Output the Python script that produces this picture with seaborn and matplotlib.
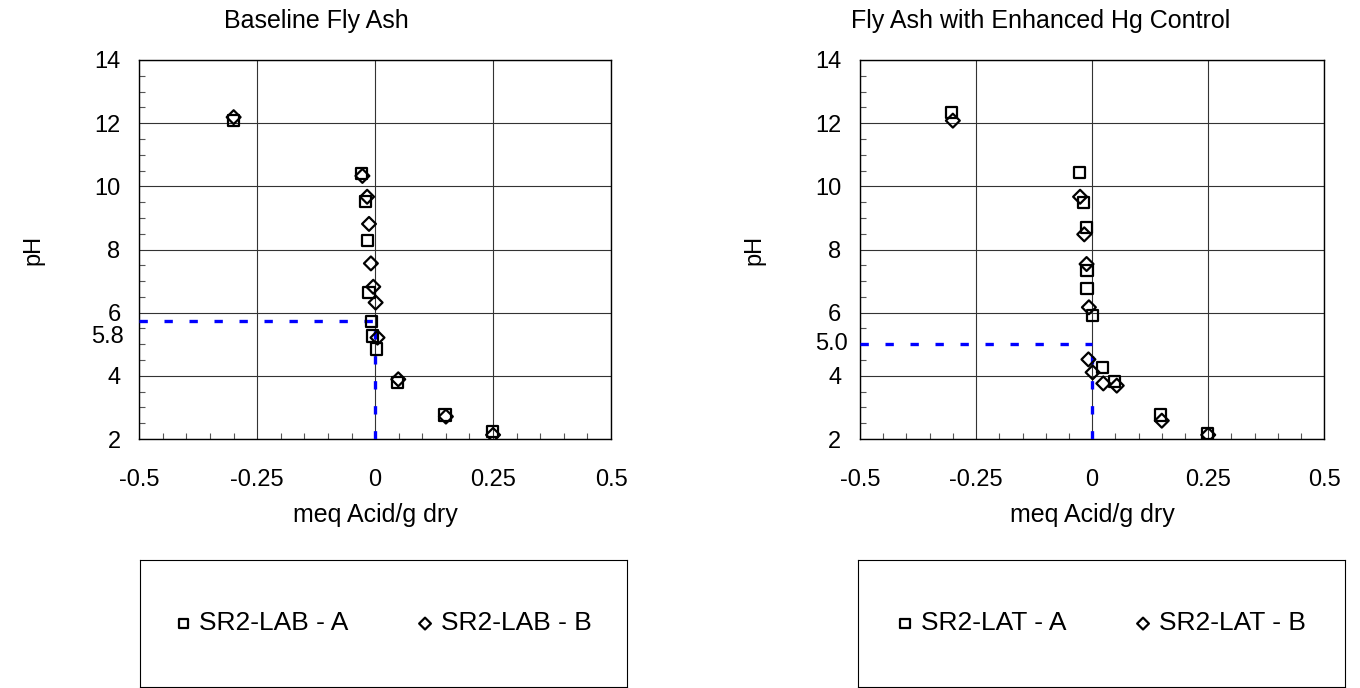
import numpy as np
import pandas as pd
import matplotlib.pyplot as plt
import matplotlib.ticker as mticker
import seaborn as sns

# Baseline fly ash (SR2-LAB)
lab_a_x = [-0.30, -0.029, -0.020, -0.016, -0.013, -0.007, -0.005, 0.002, 0.047, 0.148, 0.248]
lab_a_ph = [12.08, 10.41, 9.51, 8.28, 6.63, 5.71, 5.26, 4.85, 3.80, 2.76, 2.23]
lab_b_x = [-0.30, -0.027, -0.017, -0.013, -0.009, -0.004, 0.001, 0.005, 0.049, 0.150, 0.250]
lab_b_ph = [12.19, 10.33, 9.67, 8.81, 7.56, 6.82, 6.32, 5.21, 3.89, 2.71, 2.13]

# Fly ash with enhanced Hg control (SR2-LAT)
lat_a_x = [-0.303, -0.028, -0.019, -0.013, -0.011, -0.011, 0.0, 0.022, 0.049, 0.148, 0.248]
lat_a_ph = [12.33, 10.43, 9.50, 8.69, 7.33, 6.77, 5.90, 4.27, 3.81, 2.76, 2.18]
lat_b_x = [-0.300, -0.026, -0.017, -0.012, -0.007, -0.008, 0.001, 0.024, 0.053, 0.150, 0.250]
lat_b_ph = [12.08, 9.67, 8.48, 7.54, 6.17, 4.52, 4.11, 3.76, 3.69, 2.58, 2.13]

titles = ['Baseline Fly Ash', 'Fly Ash with Enhanced Hg Control']
series_names = [['SR2-LAB - A', 'SR2-LAB - B'], ['SR2-LAT - A', 'SR2-LAT - B']]
end_points = [5.74, 5.0]
end_labels = ['5.8', '5.0']
x_ticks = [-0.5, -0.25, 0, 0.25, 0.5]
x_ticklabels = ['-0.5', '-0.25', '0', '0.25', '0.5']
y_ticks = [2, 4, 6, 8, 10, 12, 14]

sns.set_style('white')
plt.rcParams['font.family'] = ['Liberation Sans', 'DejaVu Sans']
plt.rcParams['text.color'] = 'black'
plt.rcParams['axes.labelcolor'] = 'black'
fs_tick = 17
fs_lab = 18

fig = plt.figure(figsize=(13.6, 6.88), dpi=100)
ax_pos = [[139.3 / 1360, 249 / 688, 471.7 / 1360, 379 / 688],
          [860 / 1360, 249 / 688, 464.3 / 1360, 379 / 688]]
leg_pos = [[140 / 1360, 1 / 688, 487 / 1360, 127 / 688],
           [858 / 1360, 1 / 688, 487 / 1360, 127 / 688]]
title_x = [0.375, 0.388]
label_offsets = [(-15, -16), (-12, 0)]

data = [[(lab_a_x, lab_a_ph), (lab_b_x, lab_b_ph)],
        [(lat_a_x, lat_a_ph), (lat_b_x, lat_b_ph)]]

for i in range(2):
    ax = fig.add_axes(ax_pos[i])
    (ax_x, ax_y), (bx, by) = data[i]
    sns.scatterplot(x=ax_x, y=ax_y, ax=ax, marker='s', s=64, color='none',
                    edgecolor='black', linewidth=1.6, label=series_names[i][0], zorder=5)
    sns.scatterplot(x=bx, y=by, ax=ax, marker='D', s=50, color='none',
                    edgecolor='black', linewidth=1.6, label=series_names[i][1], zorder=6)

    # endpoint lines
    ep = end_points[i]
    ax.plot([-0.5, 0], [ep, ep], color='blue', lw=2.4, dashes=(2.5, 5), zorder=3)
    ax.plot([0, 0], [2, ep], color='blue', lw=2.4, dashes=(2.5, 5), zorder=3)

    ax.set_xlim(-0.5, 0.5)
    ax.set_ylim(2, 14)
    ax.set_xticks(x_ticks)
    ax.set_xticklabels(x_ticklabels)
    ax.set_yticks(y_ticks)
    ax.xaxis.set_minor_locator(mticker.MultipleLocator(0.05))
    ax.yaxis.set_minor_locator(mticker.MultipleLocator(0.5))
    ax.tick_params(which='major', direction='out', length=5.5, width=0.8,
                   color='#555555', labelcolor='black', labelsize=fs_tick)
    ax.tick_params(axis='x', which='major', pad=16)
    ax.tick_params(axis='y', which='major', pad=8)
    ax.tick_params(which='minor', direction='in', length=4.5, width=0.8,
                   color='#555555', bottom=True, left=True)
    ax.grid(True, which='major', color='#333333', lw=0.8)
    for sp in ax.spines.values():
        sp.set_color('black')
        sp.set_linewidth(1.0)

    ax.set_xlabel('meq Acid/g dry', fontsize=fs_lab, labelpad=9)
    ax.set_ylabel('pH', fontsize=fs_tick, labelpad=36)
    ax.set_title(titles[i], fontsize=fs_lab, x=title_x[i], pad=23, color='black')

    ax.annotate(end_labels[i], xy=(0, ep), xycoords=('axes fraction', 'data'),
                xytext=label_offsets[i], textcoords='offset pixels',
                ha='right', va='center', fontsize=fs_tick, color='black')

    handles, labels = ax.get_legend_handles_labels()
    ax.get_legend().remove()

    lax = fig.add_axes(leg_pos[i])
    lax.set_xticks([])
    lax.set_yticks([])
    for sp in lax.spines.values():
        sp.set_color('black')
        sp.set_linewidth(0.8)
    lax.legend(handles, labels, loc='center', ncol=2, frameon=False,
               fontsize=fs_lab + 1, handlelength=0.6, handletextpad=0.3,
               columnspacing=2.6, markerscale=0.85, labelcolor='black')

fig.savefig('out.png', dpi=100)
